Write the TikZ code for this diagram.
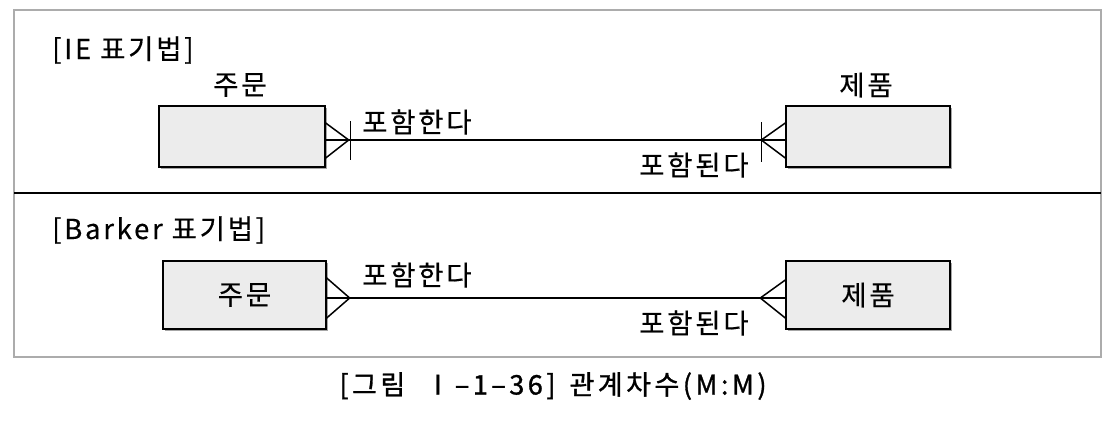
\documentclass[tikz,border=0pt]{standalone}
\usepackage{fontspec}
\setmainfont{Noto Sans CJK KR}
\newfontfamily\lblfont{Noto Sans CJK KR}[LetterSpace=10, FakeBold=0.4]
\newfontfamily\capfont{Noto Sans CJK KR}[LetterSpace=13, FakeBold=1.2]
\usetikzlibrary{calc,shadows}
\begin{document}
\begin{tikzpicture}[x=1pt,y=-1pt,
  ent/.style={draw=black, line width=1.4pt, fill=gray!15, inner sep=0pt,
    drop shadow={shadow xshift=2pt, shadow yshift=-2pt, fill=gray!70, opacity=1},
    font=\lblfont\fontsize{27.5}{31}\selectfont},
  lbl/.style={font=\lblfont\fontsize{27.5}{31}\selectfont, inner sep=0pt},
  rel/.style={line width=1.9pt},
  foot/.style={line width=1.5pt}]
\useasboundingbox (0,0) rectangle (1117,426);
\fill[white] (0,0) rectangle (1117,426);
% frame
\draw[gray!65, line width=1.3pt] (14,10) rectangle (1101,357);
\draw[line width=1.8pt] (14,193) -- (1101,193);
% section titles
\node[lbl, anchor=west] (t1) at (52,50) {[IE 표기법]};
\node[lbl, anchor=west] (t2) at (52,230) {[Barker 표기법]};
% IE entities
\node[ent, minimum width=166pt, minimum height=61pt] (o1) at (242,136.5) {};
\node[ent, minimum width=164pt, minimum height=61pt] (p1) at (868,136.5) {};
\node[lbl] (o1n) at (240,85) {주문};
\node[lbl] (p1n) at (866,85) {제품};
% IE relationship
\coordinate (o1e) at ($(o1.east)+(0,3.5)$);
\coordinate (p1w) at ($(p1.west)+(0,3.5)$);
\draw[rel] (o1e) -- (p1w);
\coordinate (a1) at ($(o1e)+(23,0)$);
\draw[foot] ($(o1e)+(0,-17)$) -- (a1) -- ($(o1e)+(0,18)$);
\draw[foot] ($(a1)+(2,-19)$) -- ($(a1)+(2,20)$);
\coordinate (b1) at ($(p1w)+(-24,0)$);
\draw[foot] ($(p1w)+(0,-17)$) -- (b1) -- ($(p1w)+(0,18)$);
\draw[foot] ($(b1)+(0,-18)$) -- ($(b1)+(0,22)$);
\node[lbl, anchor=west] (r1) at (362,122) {포함한다};
\node[lbl, anchor=west] (s1) at (639,165) {포함된다};
% Barker entities
\node[ent, minimum width=163pt, minimum height=68pt] (o2) at (244.5,295) {주문};
\node[ent, minimum width=164pt, minimum height=68pt] (p2) at (868,295) {제품};
\coordinate (o2e) at ($(o2.east)+(0,3)$);
\coordinate (p2w) at ($(p2.west)+(0,3)$);
\draw[rel] (o2e) -- (p2w);
\coordinate (a2) at ($(o2e)+(23,0)$);
\draw[foot] ($(o2e)+(0,-20)$) -- (a2) -- ($(o2e)+(0,20)$);
\coordinate (b2) at ($(p2w)+(-25,0)$);
\draw[foot] ($(p2w)+(0,-18)$) -- (b2) -- ($(p2w)+(0,20)$);
\node[lbl, anchor=west] (r2) at (362,275) {포함한다};
\node[lbl, anchor=west] (s2) at (639,323) {포함된다};
% caption
\node[inner sep=0pt, font=\capfont\fontsize{27}{31}\selectfont] (cap) at (553,386) {[그림 \ Ⅰ–1–36]\, 관계차수(M:M)};
\end{tikzpicture}
\end{document}
